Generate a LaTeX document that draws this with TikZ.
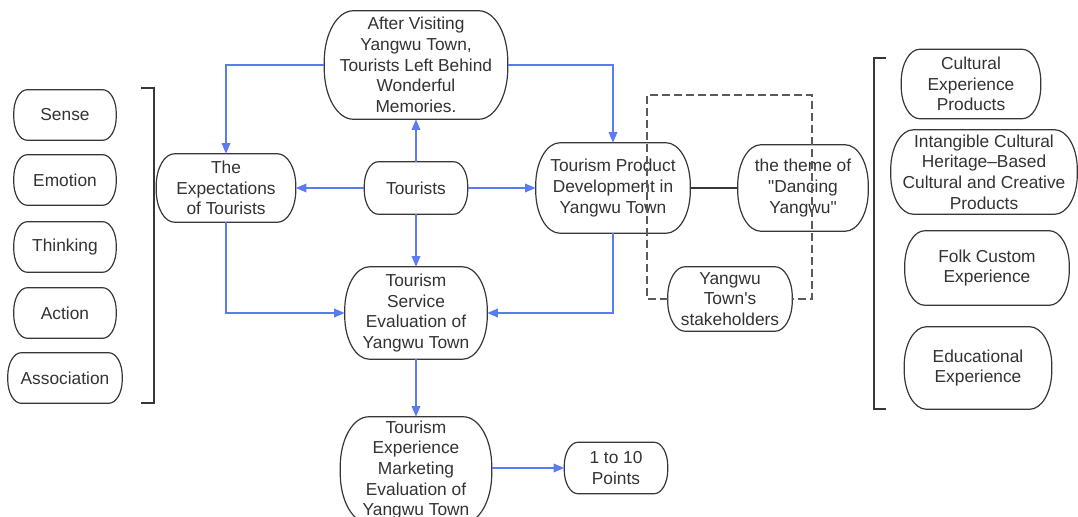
\documentclass[tikz,border=0pt]{standalone}
\usepackage{fontspec}
\newfontfamily\lsans{Liberation Sans}
\usetikzlibrary{arrows.meta}
\definecolor{bl}{RGB}{91,124,240}
\definecolor{dg}{RGB}{55,55,55}
\definecolor{tx}{RGB}{50,50,50}
\definecolor{dsh}{RGB}{90,90,90}
% pill-like outline with elliptic corners round a named node
\newcommand\pillbox[3]{%
  \draw[pillline] ([xshift=#2*0.75pt]#1.north west) -- ([xshift=-#2*0.75pt]#1.north east)
    arc[start angle=90, end angle=0, x radius=#2*0.75pt, y radius=#3*0.75pt]
    -- ([yshift=#3*0.75pt]#1.south east)
    arc[start angle=0, end angle=-90, x radius=#2*0.75pt, y radius=#3*0.75pt]
    -- ([xshift=#2*0.75pt]#1.south west)
    arc[start angle=270, end angle=180, x radius=#2*0.75pt, y radius=#3*0.75pt]
    -- ([yshift=-#3*0.75pt]#1.north west)
    arc[start angle=180, end angle=90, x radius=#2*0.75pt, y radius=#3*0.75pt] -- cycle;}
\begin{document}
\begin{tikzpicture}[x=0.75pt,y=-0.75pt,
  box/.style 2 args={text=tx, align=center,
    font=\lsans\fontsize{13}{15.5}\selectfont, inner sep=0pt,
    minimum width=#1*0.75pt, minimum height=#2*0.75pt},
  pillline/.style={draw=dg, line width=0.9pt},
  arr/.style={draw=bl, line width=1pt, -{Triangle[length=8pt,width=6.5pt]}},
  plain/.style={draw=dg, line width=1pt},
  dline/.style={draw=dsh, line width=1pt, dash pattern=on 6pt off 3pt},
  brk/.style={draw=dg, line width=1pt}
]
\useasboundingbox (0,0) rectangle (1078,517);
% central nodes
\node[box={183}{108}] (after) at (416,65) {After Visiting\\Yangwu Town,\\Tourists Left Behind\\Wonderful\\Memories.};
\node[box={139}{68}] (exp) at (226,188) {The\\Expectations\\of Tourists};
\node[box={103}{52}] (tour) at (416,188) {Tourists};
\node[box={154}{90}] (prod) at (613,188) {Tourism Product\\Development in\\Yangwu Town};
\node[box={130}{86}] (theme) at (803,188) {the theme of\\"Dancing\\Yangwu"};
\node[box={124}{64}] (stake) at (730,299) {Yangwu\\Town's\\stakeholders};
\node[box={142}{92}] (serv) at (416,313) {Tourism\\Service\\Evaluation of\\Yangwu Town};
\node[box={151}{106}] (mkt) at (416,470) {Tourism\\Experience\\Marketing\\Evaluation of\\Yangwu Town};
\node[box={103}{51}] (pts) at (616,468) {1 to 10\\Points};
% left nodes
\node[box={102}{50}] (sense) at (65,115) {Sense};
\node[box={102}{50}] (emo) at (65,180) {Emotion};
\node[box={102}{50}] (think) at (65,247) {Thinking};
\node[box={102}{50}] (act) at (65,313) {Action};
\node[box={114}{50}] (assoc) at (65,378) {Association};
% right nodes
\node[box={139}{69}] (cult) at (971,84) {Cultural\\Experience\\Products};
\node[box={186}{84}] (intang) at (984,172) {Intangible Cultural\\Heritage–Based\\Cultural and Creative\\Products};
\node[box={164}{74}] (folk) at (987,268) {Folk Custom\\Experience};
\node[box={147}{82}] (edu) at (978,368) {Educational\\Experience};
% outlines
\foreach \n/\h in {after/108, exp/68, tour/52, prod/90, theme/86, stake/64, serv/92, mkt/106, pts/51,
  sense/50, emo/50, think/50, act/50, assoc/50, cult/69, intang/84, folk/74, edu/82}
  {\pillbox{\n}{0.27*\h}{0.47*\h}}
% connectors
\draw[arr] (tour.north) -- (after.south);
\draw[arr] (tour.west) -- (exp.east);
\draw[arr] (tour.east) -- (prod.west);
\draw[arr] (tour.south) -- (serv.north);
\draw[arr] (after.west) -| (exp.north);
\draw[arr] (after.east) -| (prod.north);
\draw[arr] (exp.south) |- (serv.west);
\draw[arr] (prod.south) |- (serv.east);
\draw[arr] (serv.south) -- (mkt.north);
\draw[arr] (mkt.east |- pts.west) -- (pts.west);
\draw[plain] (prod.east) -- (theme.west);
% dashed frame
\coordinate (dtl) at (647,95);
\coordinate (dtr) at (812,95);
\draw[dline] (stake.west) -- (stake.west -| dtl) -- (dtl) -- (dtr) -- (stake.east -| dtr) -- (stake.east);
% brackets
\draw[brk] (141,88) -- (154,88) -- (154,403) -- (141,403);
\draw[brk] (886,58) -- (874,58) -- (874,409) -- (886,409);
\end{tikzpicture}
\end{document}
